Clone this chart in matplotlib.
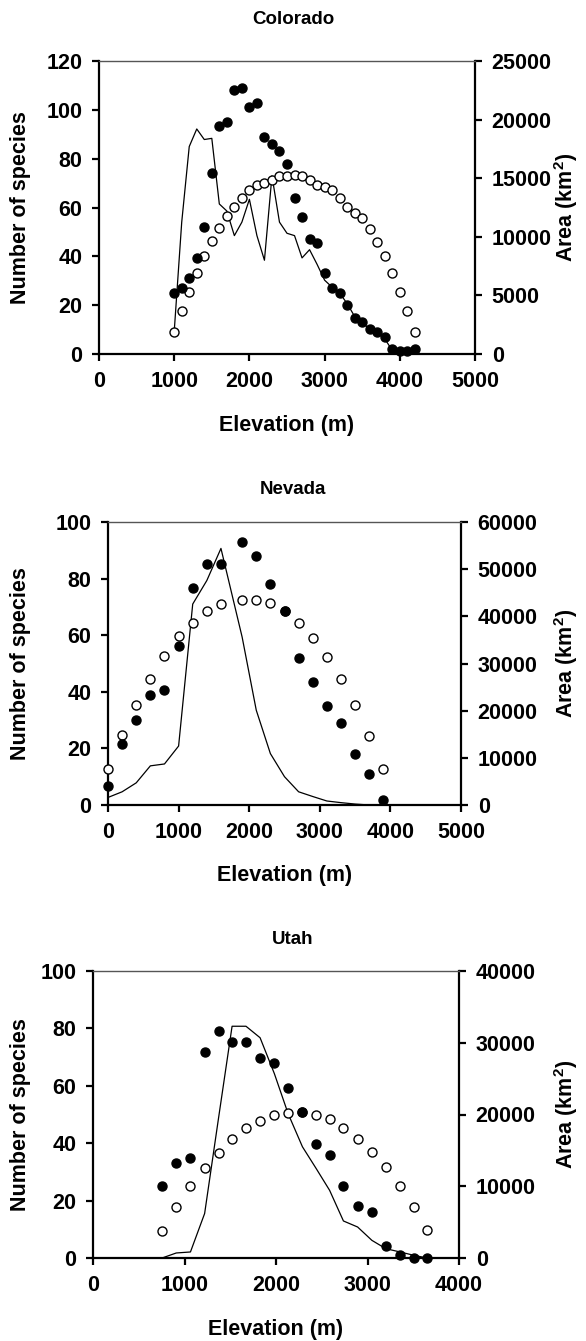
import matplotlib
matplotlib.use('Agg')
import matplotlib.pyplot as plt

plt.rcParams['font.family'] = ['Liberation Sans', 'DejaVu Sans']
plt.rcParams['font.weight'] = 'bold'
plt.rcParams['mathtext.fontset'] = 'custom'
plt.rcParams['mathtext.rm'] = 'Liberation Sans:bold'
plt.rcParams['mathtext.bf'] = 'Liberation Sans:bold'

# Colorado
co_elev = [1000, 1100, 1200, 1300, 1400, 1500, 1600, 1700, 1800, 1900, 2000,
           2100, 2200, 2300, 2400, 2500, 2600, 2700, 2800, 2900, 3000, 3100,
           3200, 3300, 3400, 3500, 3600, 3700, 3800, 3900, 4000, 4100, 4200]
co_filled = [25, 27, 31.3, 39.2, 52, 74, 93.5, 95.2, 108, 109, 101, 103, 89,
             86, 83.3, 78, 64, 56.3, 47.2, 45.4, 33.2, 27, 25, 20.2, 14.8, 13,
             10.2, 9.2, 7.1, 1.9, 1.3, 1.3, 2]
co_open = [9, 17.8, 25.3, 33.1, 40.1, 46.3, 51.4, 56.4, 60.1, 64, 67, 69.1,
           70.1, 71.3, 72.7, 73.1, 73.5, 72.7, 71.3, 69.3, 68.3, 67.3, 64,
           60.1, 57.6, 55.8, 51, 45.8, 40.1, 33.2, 25.2, 17.7, 9.1]
co_area_elev = [1000, 1100, 1200, 1300, 1400, 1500, 1600, 1700, 1800, 1900,
                2000, 2100, 2200, 2300, 2400, 2500, 2600, 2700, 2800, 2900,
                3000, 3100, 3200, 3300, 3400, 3500, 3600, 3700, 3800, 3900]
co_area = [1900, 11250, 17700, 19200, 18300, 18400, 12800, 12200, 10100,
           11250, 13200, 10100, 8000, 15200, 11250, 10300, 10100, 8200, 8900,
           7650, 6300, 5700, 5200, 4300, 3200, 2700, 2100, 1800, 1300, 300]

# Nevada
nv_elev = [0, 200, 400, 600, 800, 1000, 1200, 1400, 1600, 1900, 2100, 2300,
           2500, 2700, 2900, 3100, 3300, 3500, 3700, 3900]
nv_filled = [6.8, 21.6, 30.2, 38.8, 40.8, 56.1, 76.7, 85.1, 85.1, 92.9, 87.9,
             78, 68.4, 52, 43.6, 35.1, 29.1, 17.9, 10.8, 1.8]
nv_open = [12.7, 24.8, 35.5, 44.5, 52.8, 59.6, 64.4, 68.6, 70.9, 72.5, 72.5,
           71.3, 68.4, 64.4, 58.9, 52.4, 44.5, 35.5, 24.5, 12.7]
nv_area_elev = [0, 200, 400, 600, 800, 1000, 1200, 1400, 1600, 1900, 2100,
                2300, 2500, 2700, 2900, 3100, 3300, 3500, 3700]
nv_area = [1600, 2800, 4700, 8300, 8700, 12500, 42600, 47600, 54400, 35600,
           20100, 10900, 6000, 2800, 1800, 850, 500, 200, 0]

# Utah
ut_elev = [755, 910, 1065, 1220, 1372, 1520, 1672, 1826, 1982, 2133, 2289,
           2440, 2586, 2737, 2892, 3048, 3200, 3356, 3508, 3652]
ut_filled = [25, 33.1, 34.8, 71.8, 79.1, 75.3, 75.3, 69.8, 68.1, 59.2, 50.9,
             39.8, 36, 25, 18.1, 16, 4.2, 0.9, 0, 0]
ut_open = [9.3, 17.8, 25, 31.5, 36.7, 41.5, 45.4, 47.7, 49.7, 50.6, 50.9,
           49.7, 48.3, 45.3, 41.6, 36.9, 31.7, 25.1, 17.8, 9.6]
ut_area = [0, 700, 840, 6200, 19500, 32300, 32300, 30700, 25700, 20100,
           15500, 12450, 9430, 5160, 4320, 2460, 1300, 840, 370, 0]

W, H = 586, 1341
FS = 15.5
fig = plt.figure(figsize=(W / 100, H / 100), dpi=100)


def panel(box, title, title_y, elev, filled, opened, area_elev, area,
          xmax, ymax, amax, astep):
    l, r, t, b = box
    ax = fig.add_axes([l / W, 1 - b / H, (r - l) / W, (b - t) / H])
    ax2 = ax.twinx()
    ax.set_zorder(ax2.get_zorder() + 1)
    ax.patch.set_visible(False)

    ax2.plot(area_elev, area, '-', color='black', lw=0.9)
    ax.plot(elev, opened, 'o', mfc='white', mec='black', ms=6.5, mew=1.0,
            clip_on=False, zorder=3)
    ax.plot(elev, filled, 'o', mfc='black', mec='black', ms=6.5,
            clip_on=False, zorder=4)

    ax.set_xlim(0, xmax)
    ax.set_ylim(0, ymax)
    ax2.set_ylim(0, amax)
    ax.set_xticks(range(0, xmax + 1, 1000))
    ax.set_yticks(range(0, ymax + 1, 20))
    ax2.set_yticks(range(0, amax + 1, astep))

    for s in ['left', 'bottom']:
        ax.spines[s].set_linewidth(1.6)
    ax.spines['right'].set_visible(False)
    ax.spines['top'].set_linewidth(1.0)
    ax.spines['top'].set_color('#555555')
    for s in ['left', 'bottom', 'top']:
        ax2.spines[s].set_visible(False)
    ax2.spines['right'].set_linewidth(1.6)

    ax.tick_params(direction='out', length=5, width=1.6, labelsize=FS,
                   pad=7)
    ax2.tick_params(direction='out', length=5, width=1.6, labelsize=FS,
                    pad=7)

    cx = (l + r) / 2 / W
    fig.text(0.5, 1 - title_y / H, title, ha='center', va='center',
             fontsize=13.5, fontweight='bold')
    fig.text(cx, 1 - (b + 71) / H, 'Elevation (m)', ha='center',
             va='center', fontsize=FS, fontweight='bold')
    cy = 1 - (t + b) / 2 / H
    fig.text(21 / W, cy, 'Number of species', rotation=90, ha='center',
             va='center', fontsize=FS, fontweight='bold')
    fig.text(566 / W, cy, r'Area (km$^{\mathbf{2}}$)', rotation=90,
             ha='center', va='center', fontsize=FS, fontweight='bold')


panel((99, 475, 61, 354), 'Colorado', 19, co_elev, co_filled, co_open,
      co_area_elev, co_area, 5000, 120, 25000, 5000)
panel((108, 461, 522, 805), 'Nevada', 490, nv_elev, nv_filled, nv_open,
      nv_area_elev, nv_area, 5000, 100, 60000, 10000)
panel((93, 459, 971, 1258), 'Utah', 939, ut_elev, ut_filled, ut_open,
      ut_elev, ut_area, 4000, 100, 40000, 10000)

fig.savefig('out.png', dpi=100)
